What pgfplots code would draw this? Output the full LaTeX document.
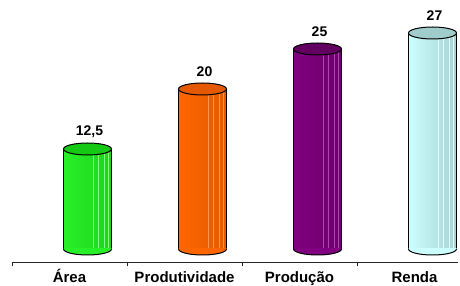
\documentclass[border=0pt]{standalone}
\usepackage{fontspec}
\setmainfont{Liberation Sans}
\usepackage{pgfplots}
\pgfplotsset{compat=1.18}
\definecolor{gM}{RGB}{40,240,40}
\definecolor{gT}{RGB}{20,200,20}
\definecolor{gD}{RGB}{28,212,28}
\definecolor{gL}{RGB}{130,252,130}
\definecolor{oM}{RGB}{255,102,0}
\definecolor{oT}{RGB}{228,88,0}
\definecolor{oD}{RGB}{226,90,0}
\definecolor{oL}{RGB}{255,150,80}
\definecolor{pM}{RGB}{128,0,128}
\definecolor{pT}{RGB}{98,0,98}
\definecolor{pD}{RGB}{108,0,108}
\definecolor{pL}{RGB}{175,70,175}
\definecolor{cM}{RGB}{204,255,255}
\definecolor{cT}{RGB}{160,204,204}
\definecolor{cD}{RGB}{166,210,210}
\definecolor{cL}{RGB}{225,255,255}
\pgfdeclareplotmark{lowhalf}{%
  \pgfpathmoveto{\pgfqpoint{-\pgfplotmarksize}{0.15\pgfplotmarksize}}%
  \pgfpathlineto{\pgfqpoint{-\pgfplotmarksize}{0pt}}%
  \pgfpatharc{180}{360}{\pgfplotmarksize}%
  \pgfpathlineto{\pgfqpoint{\pgfplotmarksize}{0.15\pgfplotmarksize}}%
  \pgfpathclose
  \pgfusepathqfill
  \pgfpathmoveto{\pgfqpoint{-\pgfplotmarksize}{0pt}}%
  \pgfpatharc{180}{360}{\pgfplotmarksize}%
  \pgfusepathqstroke
}
\pgfplotsset{
  ell/.style={only marks, mark=*, mark size=6pt,
    mark options={xshift=18pt, xscale=4, fill=#1, draw=black, line width=1pt}},
  bot/.style={only marks, mark=lowhalf, mark size=6pt,
    mark options={xshift=18pt, xscale=4, fill=#1, draw=black, line width=1pt}},
  body/.style n args={2}{ybar, bar width=48pt, bar shift=18pt, draw=none,
    left color=#1, middle color=#1, right color=#2},
  stripe/.style 2 args={ybar, bar width=0.9pt, bar shift=#2, draw=none, fill=#1},
  side/.style={ybar, bar width=1pt, bar shift=#1, draw=none, fill=black},
  lab/.style={nodes near coords={\pgfmathprintnumber[use comma, assume math mode=true]{\pgfplotspointmeta}},
    point meta=y,
    every node near coord/.append style={anchor=center, xshift=2pt, yshift=17pt,
      font=\bfseries\fontsize{14}{16}\selectfont, text=black}},
}
% one cylinder: category #1, value #2, colours #3 main, #4 top, #5 dark, #6 light
\newcommand\cyl[6]{%
  \addplot[bot=#3] coordinates {(#1,0)};
  \addplot[body={#3}{#5}] coordinates {(#1,#2)};
  \addplot[stripe={#6}{24.2pt}] coordinates {(#1,#2)};
  \addplot[stripe={#6}{29pt}] coordinates {(#1,#2)};
  \addplot[stripe={#6}{34.8pt}] coordinates {(#1,#2)};
  \addplot[stripe={#6}{38.6pt}] coordinates {(#1,#2)};
  \addplot[side=-6pt] coordinates {(#1,#2)};
  \addplot[side=42pt] coordinates {(#1,#2)};
  \addplot[ell=#4, lab] coordinates {(#1,#2)};
}
\begin{document}
\begin{tikzpicture}
\useasboundingbox (0pt,0pt) rectangle (460pt,286pt);
\begin{axis}[
  at={(12pt,24pt)}, anchor=south west,
  x=115pt, y=8pt,
  xmin=-0.5, xmax=3.378, ymin=-1.625, ymax=31.125,
  axis x line=bottom, axis y line=none,
  axis line style={-, black!85, line width=0.8pt},
  xtick={0,1,2,3},
  xticklabels={Área, Produtividade, Produção, Renda},
  major tick length=0pt,
  extra x ticks={-0.5,0.5,1.5,2.5},
  extra x tick labels={},
  extra x tick style={major tick length=4.5pt, tick align=outside, tick style={black!85, line width=0.8pt}},
  x tick label style={font=\bfseries\fontsize{15}{17}\selectfont, text height=14pt, text depth=3pt, yshift=-2.5pt},
  clip=false,
]
\cyl{0}{12.5}{gM}{gT}{gD}{gL}
\cyl{1}{20}{oM}{oT}{oD}{oL}
\cyl{2}{25}{pM}{pT}{pD}{pL}
\cyl{3}{27}{cM}{cT}{cD}{cL}
\end{axis}
\end{tikzpicture}
\end{document}
